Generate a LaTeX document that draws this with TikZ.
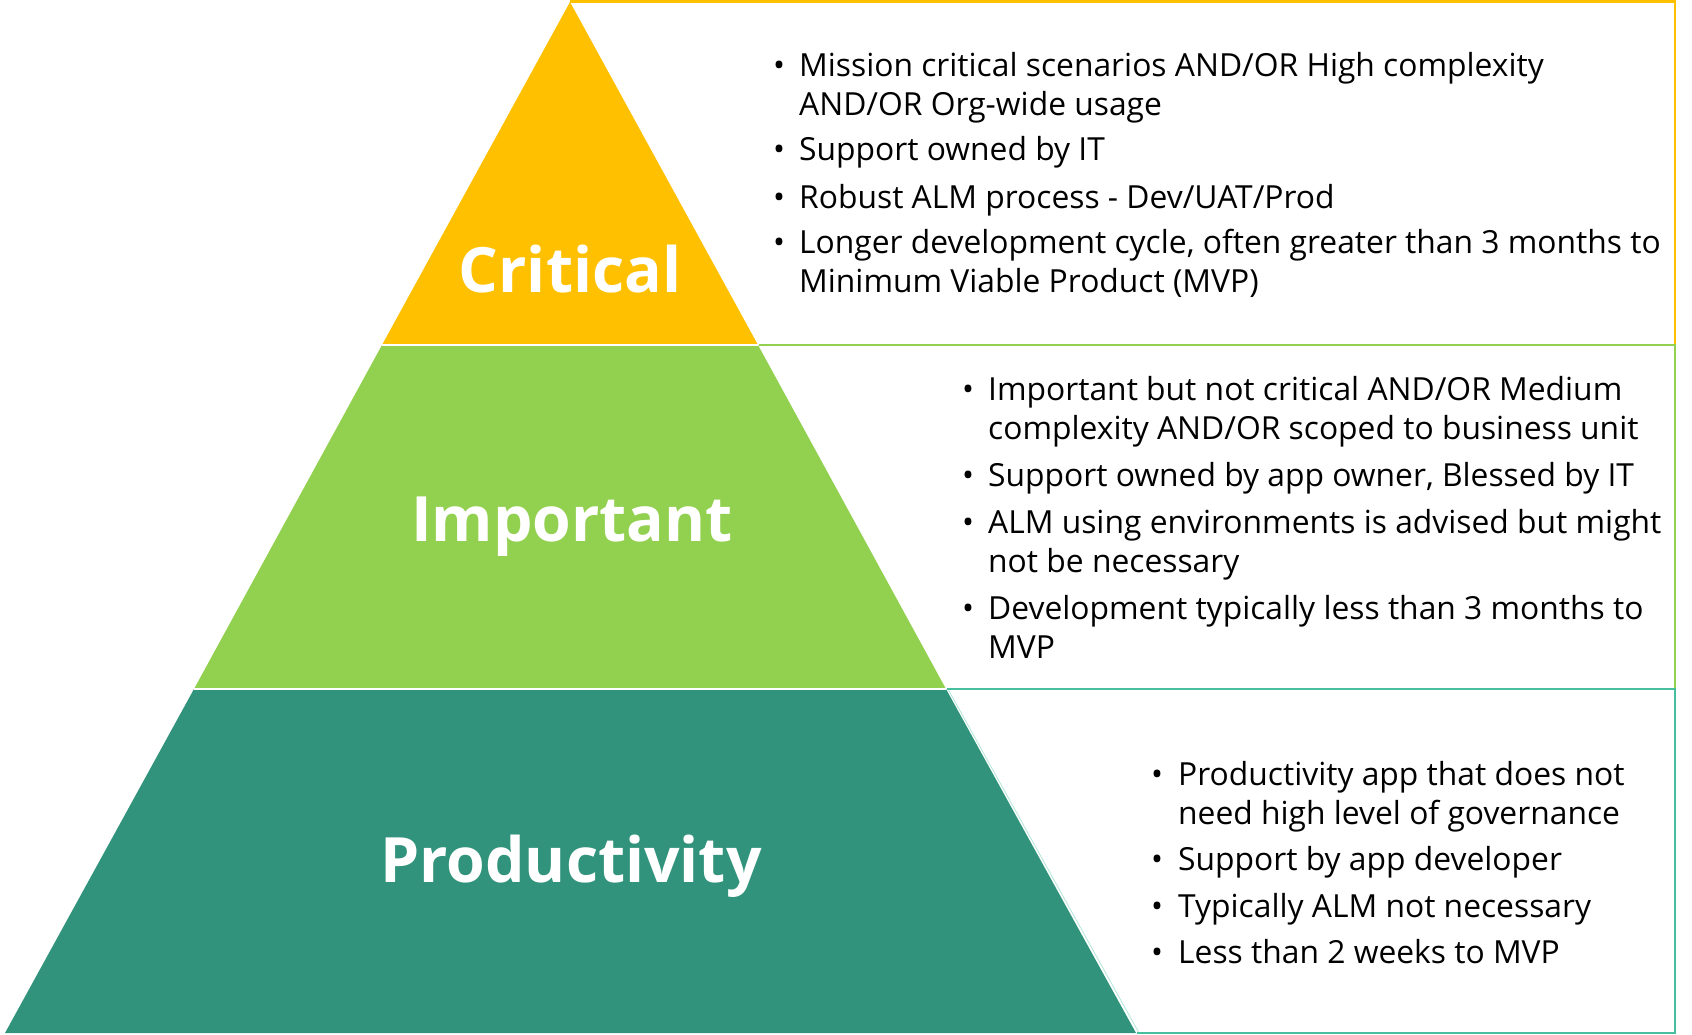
\documentclass[tikz,border=0pt]{standalone}
\usepackage{fontspec}
\setmainfont{Open Sans}
\definecolor{crit}{HTML}{FFC000}
\definecolor{impt}{HTML}{92D050}
\definecolor{prod}{HTML}{31937B}
\definecolor{prodline}{HTML}{47BE9E}

\begin{document}
\begin{tikzpicture}[x=1pt, y=-1pt, lvl/.style={inner sep=0pt, anchor=base, text=white, font=\fontsize{62.5}{62.5}\bfseries\selectfont}, itm/.style={inner sep=0pt, anchor=base west, font=\fontsize{31.8}{39}\selectfont}, bul/.style={inner sep=0pt, anchor=base west, font=\fontsize{31.8}{39}\selectfont}, rim/.style={line width=2.5pt}]
	\useasboundingbox (0,0) rectangle (1692,1035);
	\fill[crit] (570,2) -- (758,345) -- (382,345) -- cycle;
	\fill[impt] (382,345) -- (758,345) -- (946,689) -- (194,689) -- cycle;
	\fill[prod] (194,689) -- (946,689) -- (1136,1033) -- (5,1033) -- cycle;
	\draw[white, line width=2.5pt] (382,345) -- (758,345) (194,689) -- (946,689);
	\draw[crit, rim] (570,1.5) -- (1675,1.5) -- (1675,345);
	\draw[impt, rim] (759,345) -- (1675,345) -- (1675,689);
	\draw[prodline, rim] (947,689) -- (1675,689) -- (1675,1033) -- (1137,1033);
	\draw[prodline!40, line width=0.8pt] (948.5,690) -- (1138.5,1032);
	\node[lvl] (crit) at (570,292) {Critical};
	\node[lvl] (impt) at (572,541) {Important};
	\node[lvl] (prod) at (571,882) {Productivity};
	\foreach \y/\t [count=\i] in {77/{Mission critical scenarios AND/OR High complexity\\AND/OR Org-wide usage}, 161/{Support owned by IT}, 208.5/{Robust ALM process - Dev/UAT/Prod}, 254/{Longer development cycle, often greater than 3 months to\\Minimum Viable Product (MVP)}} {
		\node[bul] (cb\i) at (773,\y) {•};
		\node[itm] (ct\i) at (799,\y) {\begin{tabular}[t]{@{}l@{}}\t\end{tabular}};
	}
	\foreach \y/\t [count=\i] in {400.5/{Important but not critical AND/OR Medium\\complexity AND/OR scoped to business unit}, 486.5/{Support owned by app owner, Blessed by IT}, 533/{ALM using environments is advised but might\\not be necessary}, 619.5/{Development typically less than 3 months to\\MVP}} {
		\node[bul] (ib\i) at (962,\y) {•};
		\node[itm] (it\i) at (988,\y) {\begin{tabular}[t]{@{}l@{}}\t\end{tabular}};
	}
	\foreach \y/\t [count=\i] in {785/{Productivity app that does not\\need high level of governance}, 870.8/{Support by app developer}, 917.2/{Typically ALM not necessary}, 963.5/{Less than 2 weeks to MVP}} {
		\node[bul] (pb\i) at (1151,\y) {•};
		\node[itm] (pt\i) at (1178,\y) {\begin{tabular}[t]{@{}l@{}}\t\end{tabular}};
	}
\end{tikzpicture}
\end{document}
